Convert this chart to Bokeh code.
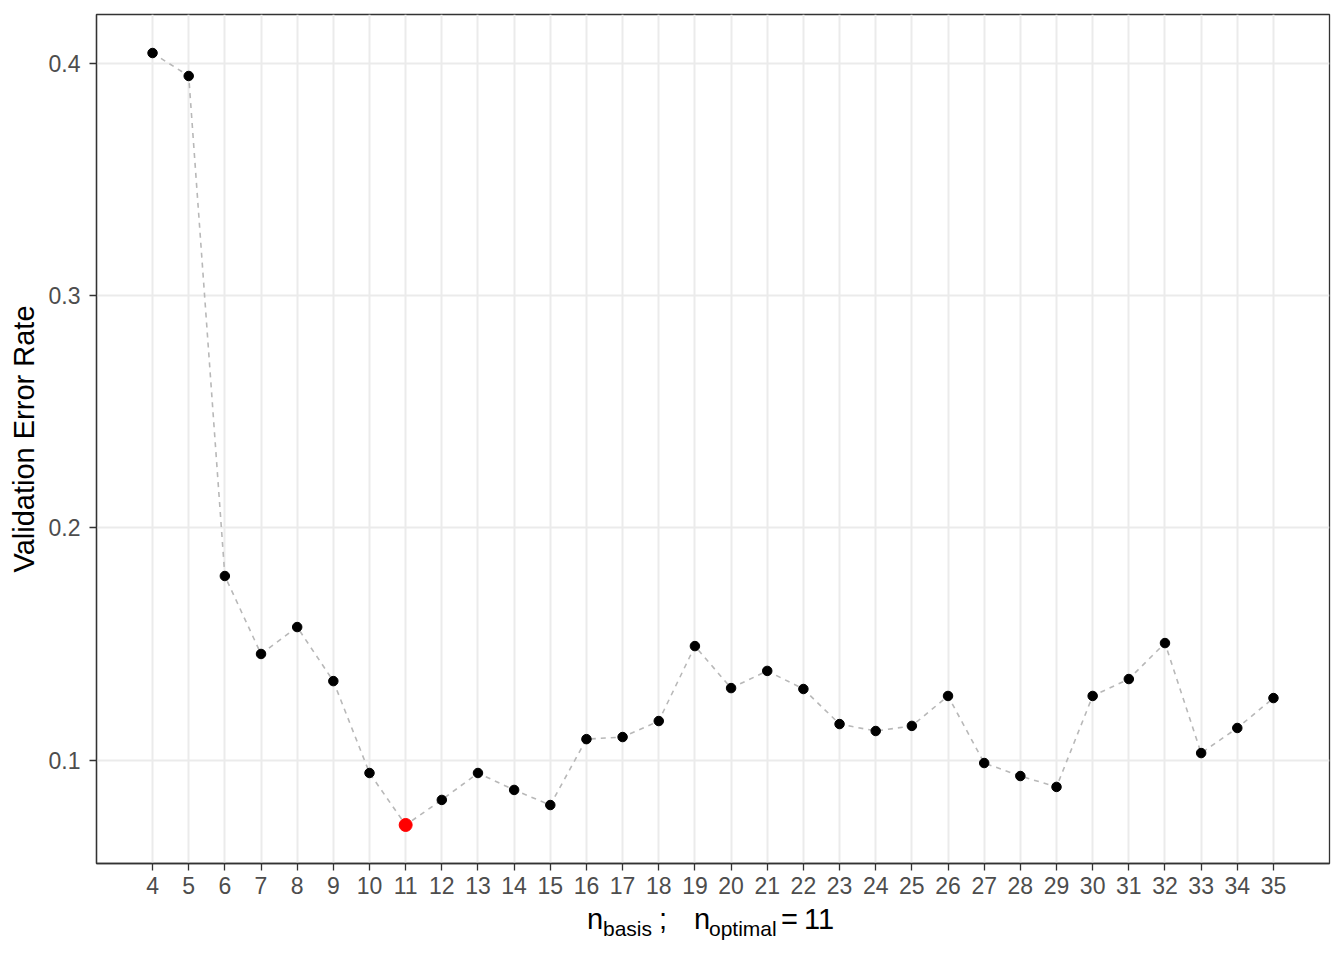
from bokeh.plotting import figure
from bokeh.models import FixedTicker, ColumnDataSource, Range1d, Div
from bokeh.layouts import column
from bokeh.embed import file_html
from bokeh.resources import INLINE

n_basis = list(range(4, 36))
error_rate = [0.4047, 0.3948, 0.1793, 0.1457, 0.1573, 0.1340, 0.0944, 0.0720,
              0.0828, 0.0944, 0.0871, 0.0806, 0.1090, 0.1099, 0.1168, 0.1491,
              0.1310, 0.1384, 0.1306, 0.1155, 0.1125, 0.1147, 0.1276, 0.0987,
              0.0931, 0.0884, 0.1276, 0.1349, 0.1504, 0.1030, 0.1138, 0.1267]
optimal_n = 11
y_ticks = [0.1, 0.2, 0.3, 0.4]

FONT = "Liberation Sans"

p = figure(width=1344, height=900, output_backend="svg", toolbar_location=None,
           frame_width=1233, frame_height=849,
           min_border_left=96, min_border_right=15, min_border_top=14, min_border_bottom=37,
           x_range=Range1d(2.45, 36.55), y_range=Range1d(0.0554, 0.4213))
p.background_fill_color = "white"
p.border_fill_color = "white"
p.outline_line_color = "#333333"
p.outline_line_width = 1.3

p.xgrid.ticker = FixedTicker(ticks=n_basis)
p.ygrid.ticker = FixedTicker(ticks=y_ticks)
for g in (p.xgrid, p.ygrid):
    g.grid_line_color = "#EBEBEB"
    g.grid_line_width = 2

p.xaxis.ticker = FixedTicker(ticks=n_basis)
p.yaxis.ticker = FixedTicker(ticks=y_ticks)
p.yaxis.major_label_overrides = {t: f"{t:.1f}" for t in y_ticks}
for ax in (p.xaxis, p.yaxis):
    ax.axis_line_color = "#333333"
    ax.axis_line_width = 1.3
    ax.major_tick_line_color = "#333333"
    ax.major_tick_line_width = 1.3
    ax.major_tick_out = 7
    ax.major_tick_in = 0
    ax.minor_tick_line_color = None
    ax.major_label_text_font = FONT
    ax.major_label_text_font_size = "23px"
    ax.major_label_text_color = "#4D4D4D"
p.xaxis.major_label_standoff = 6
p.yaxis.major_label_standoff = 9

p.yaxis.axis_label = "Validation Error Rate"
p.yaxis.axis_label_text_font = FONT
p.yaxis.axis_label_text_font_size = "29px"
p.yaxis.axis_label_text_font_style = "normal"
p.yaxis.axis_label_text_color = "black"
p.yaxis.axis_label_standoff = 6

src = ColumnDataSource(dict(x=n_basis, y=error_rate))
p.line("x", "y", source=src, line_color="#B8B8B8", line_width=1.6, line_dash="5 5")
p.scatter("x", "y", source=src, size=9.5, color="black")
i_opt = n_basis.index(optimal_n)
p.scatter([n_basis[i_opt]], [error_rate[i_opt]], size=13, color="red")

# x-axis title with subscripts: n_basis ;   n_optimal = 11
big = "font-size:29px;line-height:29px"
small = "font-size:21px;line-height:21px"
pieces = [
    ("n", 587, 4.5, big),
    ("basis", 603, 18, small),
    (";", 659, 4.5, big),
    ("n", 694, 4.5, big),
    ("optimal", 709, 18, small),
    ("=", 781, 4.5, big),
    (str(optimal_n), 804, 4.5, big),
]
spans = "".join(
    f'<span style="position:absolute;left:{x}px;top:{t}px;{st};white-space:nowrap">{txt}</span>'
    for txt, x, t, st in pieces)
html = (f'<div style="position:relative;width:1344px;height:60px;'
        f'font-family:\'{FONT}\';color:black;margin:0;padding:0">{spans}</div>')
div = Div(text=html, width=1344, height=60, margin=(0, 0, 0, 0))

layout = column(p, div, spacing=0)
open("out.html", "w").write(file_html(layout, INLINE))
